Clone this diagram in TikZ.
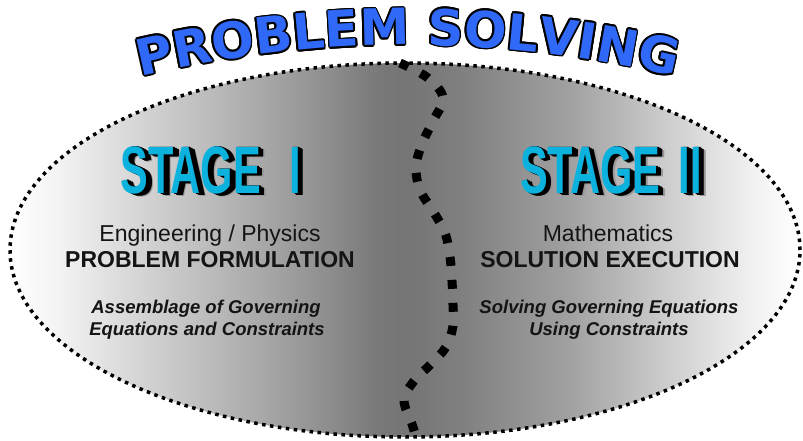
\documentclass[tikz,border=0pt]{standalone}
\usepackage{fontspec}
\setmainfont{Liberation Sans}
\newfontfamily\titlefont{DejaVu Sans}
\usetikzlibrary{decorations.text,shapes.geometric}
\definecolor{titleblue}{RGB}{48,105,248}
\definecolor{stagecyan}{RGB}{12,178,222}
\pgfdeclarehorizontalshading{ellshade}{100bp}{color(0bp)=(white); color(25bp)=(white); color(28.2bp)=(black!5); color(32bp)=(black!14); color(38.3bp)=(black!28); color(43.4bp)=(black!40); color(48.4bp)=(black!53); color(50.3bp)=(black!54); color(53.5bp)=(black!50); color(60.4bp)=(black!37); color(66.8bp)=(black!19); color(71.8bp)=(black!6); color(75bp)=(white); color(100bp)=(white)}
\newcommand\titlearc[2]{%
  \path[shift={#1}, decorate, decoration={text along path, text align=center,
    text={|\titlefont\bfseries\fontsize{50}{50}\selectfont\color{#2}|PROBLEM SOLVING}}]
    plot[domain=-115:-65, samples=80, variable=\t] ({408+1150*cos(\t)},{1195+1150*sin(\t)});}
\newcommand\stg[1]{\scalebox{0.62}[1]{\bfseries\fontsize{67}{67}\selectfont #1}}
\tikzset{
  stagebase/.style={anchor=base, inner sep=0pt},
  lineone/.style={anchor=base, inner sep=0pt, font=\fontsize{23}{23}\selectfont, text=black!92},
  linetwo/.style={anchor=base, inner sep=0pt, font=\bfseries\fontsize{23}{23}\selectfont, text=black!92},
  linethree/.style={anchor=base, inner sep=0pt, font=\bfseries\itshape\fontsize{18.5}{18.5}\selectfont, text=black!92},
  ovalstyle/.style={ellipse, minimum width=790pt, minimum height=374pt, inner sep=0pt,
    shade, shading=ellshade, draw=black, line width=3.5pt, dash pattern=on 3.5pt off 4.5pt},
  wavestyle/.style={line width=9pt, dash pattern=on 9pt off 14pt, draw=black}
}
\begin{document}
\begin{tikzpicture}[x=1pt,y=-1pt]
\useasboundingbox[fill=white] (0,0) rectangle (803,441);
% oval
\node[ovalstyle] (oval) at (405,250) {};
% wavy divider
\draw[wavestyle] plot[smooth, tension=0.6] coordinates {(400,63) (428,78) (443,98) (433,121) (422,144) (416,167) (420,190) (433,211) (445,233) (450,257) (452,281) (453,305) (453,326) (446,347) (431,364) (414,381) (404,400) (412,424) (416,437)};
% title: black outline copies, blue on top
\foreach \a in {0,30,...,330} {\titlearc{(\a:1.7)}{black}}
\titlearc{(0,0)}{titleblue}
% stage I
\node[stagebase, text=black!40] at (218,196) {\stg{STAGE\hspace{46pt}I}};
\foreach \d in {1,...,6} {\node[stagebase, text=black] at ({211+\d*0.9},{193+\d*0.4}) {\stg{STAGE\hspace{46pt}I}};}
\node[stagebase, text=stagecyan] (stageone) at (211,193) {\stg{STAGE\hspace{46pt}I}};
% stage II
\node[stagebase, text=black!40] at (618,196) {\stg{STAGE\hspace{30pt}II}};
\foreach \d in {1,...,6} {\node[stagebase, text=black] at ({611+\d*0.9},{193+\d*0.4}) {\stg{STAGE\hspace{30pt}II}};}
\node[stagebase, text=stagecyan] (stagetwo) at (611,193) {\stg{STAGE\hspace{30pt}II}};
% left texts
\node[lineone] (eng) at (210,241) {Engineering / Physics};
\node[linetwo] (pf) at (210,267) {PROBLEM FORMULATION};
\node[linethree] (asm) at (206,313) {Assemblage of Governing};
\node[linethree] (eqc) at (207,335) {Equations and Constraints};
% right texts
\node[lineone] (math) at (608,241) {Mathematics};
\node[linetwo] (se) at (610,267) {SOLUTION EXECUTION};
\node[linethree] (sge) at (609,313) {Solving Governing Equations};
\node[linethree] (uc) at (609,335) {Using Constraints};
\end{tikzpicture}
\end{document}
